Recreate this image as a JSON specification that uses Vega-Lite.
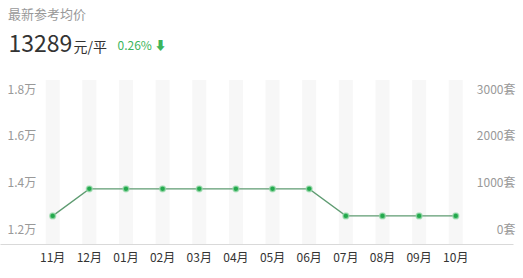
{
  "$schema": "https://vega.github.io/schema/vega-lite/v6.json",
  "width": 513,
  "height": 164,
  "autosize": {"type": "none"},
  "padding": {"top": 80, "left": 0, "right": 10, "bottom": 34},
  "background": "#ffffff",
  "config": {
    "view": {"stroke": null},
    "font": "Noto Sans CJK SC",
    "axis": {"labelFont": "Noto Sans CJK SC", "titleFont": "Noto Sans CJK SC"}
  },
  "title": {
    "text": "最新参考均价",
    "anchor": "start",
    "frame": "group",
    "dx": 8,
    "offset": 11,
    "fontSize": 13,
    "fontWeight": "normal",
    "color": "#999999",
    "font": "Noto Sans CJK SC"
  },
  "data": {
    "values": [
      {"month": "11月", "price": 12600},
      {"month": "12月", "price": 13750},
      {"month": "01月", "price": 13750},
      {"month": "02月", "price": 13750},
      {"month": "03月", "price": 13750},
      {"month": "04月", "price": 13750},
      {"month": "05月", "price": 13750},
      {"month": "06月", "price": 13750},
      {"month": "07月", "price": 12600},
      {"month": "08月", "price": 12600},
      {"month": "09月", "price": 12600},
      {"month": "10月", "price": 12600}
    ]
  },
  "encoding": {
    "x": {
      "field": "month",
      "type": "nominal",
      "sort": null,
      "scale": {"type": "band", "paddingInner": 0, "paddingOuter": 1.125, "align": 0.469},
      "axis": {
        "title": "元/平",
        "titleX": 73,
        "titleY": -193,
        "titleAlign": "left",
        "titleBaseline": "alphabetic",
        "titleFontSize": 14,
        "titleFontWeight": "normal",
        "titleColor": "#333333",
        "labelAngle": 0,
        "labelFontSize": 12,
        "labelColor": "#333333",
        "labelPadding": 8,
        "ticks": false,
        "domainColor": "#d9d9d9",
        "grid": false
      }
    }
  },
  "layer": [
    {
      "mark": {"type": "bar", "size": 14, "color": "#f7f7f7"},
      "encoding": {
        "y": {
          "datum": 3191.5,
          "type": "quantitative",
          "scale": {"domain": [-298, 3191.5], "nice": false, "zero": false},
          "axis": {
            "orient": "right",
            "values": [0, 1000, 2000, 3000],
            "labelExpr": "datum.value + '套'",
            "labelAlign": "right",
            "labelPadding": 2,
            "labelFontSize": 12,
            "labelColor": "#999999",
            "ticks": false,
            "domain": false,
            "grid": false,
            "title": "0.26%  ⬇",
            "titleAngle": 0,
            "titleX": -396,
            "titleY": -31,
            "titleAlign": "left",
            "titleBaseline": "alphabetic",
            "titleFontSize": 12,
            "titleFontWeight": "normal",
            "titleColor": "#3cb55c"
          }
        },
        "y2": {"datum": -298}
      }
    },
    {
      "layer": [
        {
          "mark": {"type": "line", "color": "#5f9c72", "strokeWidth": 1.3},
          "encoding": {
            "y": {
              "field": "price",
              "type": "quantitative",
              "scale": {"domain": [11404, 18383], "nice": false, "zero": false},
              "axis": {
                "orient": "left",
                "offset": -7,
                "values": [12000, 14000, 16000, 18000],
                "labelExpr": "format(datum.value / 10000, '.1f') + '万'",
                "labelAlign": "left",
                "labelPadding": 0,
                "labelFontSize": 12,
                "labelColor": "#999999",
                "ticks": false,
                "domain": false,
                "grid": false,
                "title": "13289",
                "titleAngle": 0,
                "titleX": 1,
                "titleY": -29,
                "titleAlign": "left",
                "titleBaseline": "alphabetic",
                "titleFontSize": 23,
                "titleFontWeight": "normal",
                "titleColor": "#333333"
              }
            }
          }
        },
        {
          "mark": {"type": "point", "filled": true, "size": 34, "color": "#22a94c", "stroke": "#9fdcb1", "strokeWidth": 1.5, "strokeOpacity": 0.7, "opacity": 1},
          "encoding": {
            "y": {"field": "price", "type": "quantitative"}
          }
        }
      ]
    }
  ],
  "resolve": {"scale": {"y": "independent"}, "axis": {"y": "independent"}}
}
